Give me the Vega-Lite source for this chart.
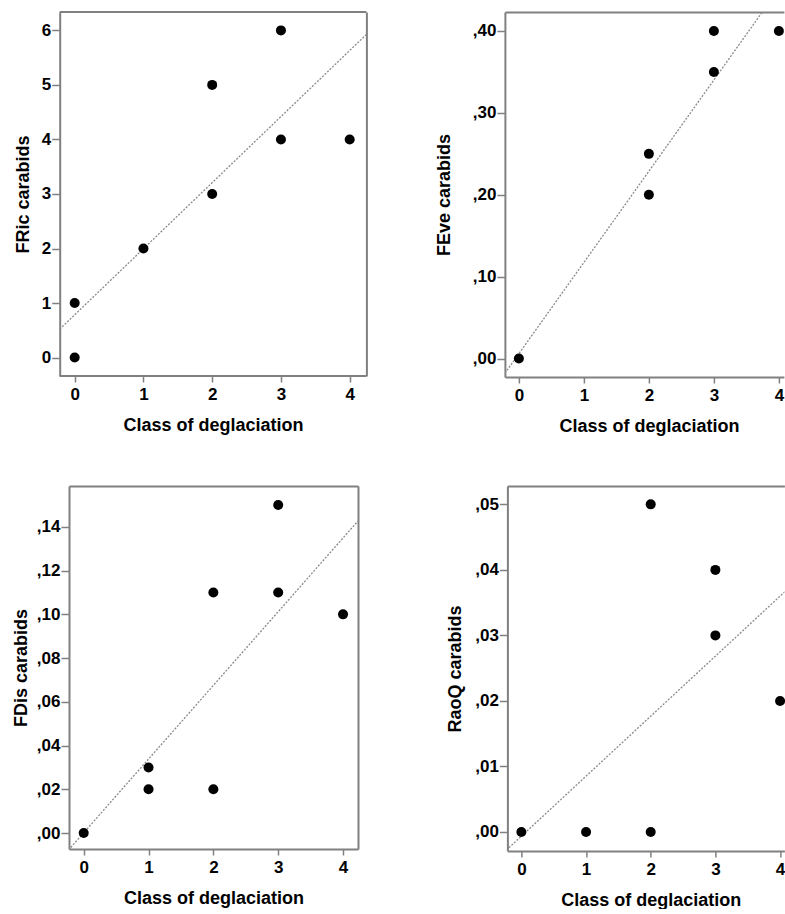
{
  "$schema": "https://vega.github.io/schema/vega-lite/v6.json",
  "padding": {"left": 12, "top": 11, "right": 0, "bottom": 0},
  "background": "white",
  "datasets": {
    "pts": [
      {"panel": "FRic", "cls": 0, "val": 0},
      {"panel": "FRic", "cls": 0, "val": 1},
      {"panel": "FRic", "cls": 1, "val": 2},
      {"panel": "FRic", "cls": 2, "val": 3},
      {"panel": "FRic", "cls": 2, "val": 5},
      {"panel": "FRic", "cls": 3, "val": 4},
      {"panel": "FRic", "cls": 3, "val": 6},
      {"panel": "FRic", "cls": 4, "val": 4},
      {"panel": "FEve", "cls": 0, "val": 0},
      {"panel": "FEve", "cls": 2, "val": 0.2},
      {"panel": "FEve", "cls": 2, "val": 0.25},
      {"panel": "FEve", "cls": 3, "val": 0.35},
      {"panel": "FEve", "cls": 3, "val": 0.4},
      {"panel": "FEve", "cls": 4, "val": 0.4},
      {"panel": "FDis", "cls": 0, "val": 0},
      {"panel": "FDis", "cls": 1, "val": 0.02},
      {"panel": "FDis", "cls": 1, "val": 0.03},
      {"panel": "FDis", "cls": 2, "val": 0.02},
      {"panel": "FDis", "cls": 2, "val": 0.11},
      {"panel": "FDis", "cls": 3, "val": 0.11},
      {"panel": "FDis", "cls": 3, "val": 0.15},
      {"panel": "FDis", "cls": 4, "val": 0.1},
      {"panel": "RaoQ", "cls": 0, "val": 0},
      {"panel": "RaoQ", "cls": 1, "val": 0},
      {"panel": "RaoQ", "cls": 2, "val": 0},
      {"panel": "RaoQ", "cls": 2, "val": 0.05},
      {"panel": "RaoQ", "cls": 3, "val": 0.03},
      {"panel": "RaoQ", "cls": 3, "val": 0.04},
      {"panel": "RaoQ", "cls": 4, "val": 0.02}
    ],
    "fit": [
      {"panel": "FRic", "cls": -0.218, "val": 0.52},
      {"panel": "FRic", "cls": 4.243, "val": 5.925},
      {"panel": "FEve", "cls": -0.215, "val": -0.018},
      {"panel": "FEve", "cls": 3.745, "val": 0.4232},
      {"panel": "FDis", "cls": -0.2, "val": -0.0066},
      {"panel": "FDis", "cls": 4.231, "val": 0.1427},
      {"panel": "RaoQ", "cls": -0.192, "val": -0.0024},
      {"panel": "RaoQ", "cls": 4.088, "val": 0.0368}
    ]
  },
  "columns": 1,
  "align": "none",
  "spacing": 51,
  "concat": [
    {
      "spacing": 65.9,
      "hconcat": [
        {
          "width": 297.4,
          "height": 364,
          "layer": [
            {
              "data": {"values": [{}]},
              "mark": {"type": "rule", "color": "#808080", "strokeWidth": 2},
              "encoding": {
                "x": {"datum": -0.218, "type": "quantitative", "scale": {"domain": [-0.0827, 4.243], "nice": false, "zero": false}, "axis": null},
                "x2": {"datum": 4.243},
                "y": {"datum": 6.337, "type": "quantitative", "scale": {"domain": [-0.338, 6.337], "nice": false, "zero": false}, "axis": null}
              }
            },
            {
              "data": {"values": [{}]},
              "mark": {"type": "rule", "color": "#808080", "strokeWidth": 2},
              "encoding": {
                "x": {"datum": -0.218, "type": "quantitative", "scale": {"domain": [-0.0827, 4.243], "nice": false, "zero": false}, "axis": null},
                "x2": {"datum": 4.243},
                "y": {"datum": -0.338, "type": "quantitative", "scale": {"domain": [-0.338, 6.337], "nice": false, "zero": false}, "axis": null}
              }
            },
            {
              "data": {"name": "fit"},
              "transform": [{"filter": "datum.panel === 'FRic'"}],
              "mark": {"type": "line", "color": "#8a8a8a", "strokeDash": [2, 1.5], "strokeWidth": 1.3},
              "encoding": {
                "x": {"field": "cls", "type": "quantitative", "scale": {"domain": [-0.0827, 4.243], "nice": false, "zero": false}, "axis": null},
                "y": {"field": "val", "type": "quantitative", "scale": {"domain": [-0.338, 6.337], "nice": false, "zero": false}, "axis": {"orient": "right", "labels": false, "ticks": false, "title": null}}
              }
            },
            {
              "data": {"name": "pts"},
              "transform": [{"filter": "datum.panel === 'FRic'"}],
              "mark": {"type": "circle", "size": 100, "color": "#000", "opacity": 1},
              "encoding": {
                "x": {"field": "cls", "type": "quantitative", "scale": {"domain": [-0.0827, 4.243], "nice": false, "zero": false}, "axis": {"orient": "bottom", "domain": false, "values": [0, 1, 2, 3, 4], "format": "d", "title": "Class of deglaciation", "titleX": 143.9}},
                "y": {"field": "val", "type": "quantitative", "scale": {"domain": [-0.338, 6.337], "nice": false, "zero": false}, "axis": {"orient": "left", "offset": 9.3, "values": [0, 1, 2, 3, 4, 5, 6], "format": "d", "title": "FRic carabids", "titlePadding": 9}}
              }
            }
          ],
          "resolve": {"axis": {"x": "independent", "y": "independent"}}
        },
        {
          "width": 279,
          "height": 365,
          "layer": [
            {
              "data": {"name": "fit"},
              "transform": [{"filter": "datum.panel === 'FEve'"}],
              "mark": {"type": "line", "clip": true, "color": "#8a8a8a", "strokeDash": [2, 1.5], "strokeWidth": 1.3},
              "encoding": {
                "x": {"field": "cls", "type": "quantitative", "scale": {"domain": [-0.215, 4.077], "nice": false, "zero": false}, "axis": {"orient": "top", "labels": false, "ticks": false, "title": null}},
                "y": {"field": "val", "type": "quantitative", "scale": {"domain": [-0.0225, 0.4232], "nice": false, "zero": false}, "axis": null}
              }
            },
            {
              "data": {"name": "pts"},
              "transform": [{"filter": "datum.panel === 'FEve'"}],
              "mark": {"type": "circle", "size": 100, "color": "#000", "opacity": 1},
              "encoding": {
                "x": {"field": "cls", "type": "quantitative", "scale": {"domain": [-0.215, 4.077], "nice": false, "zero": false}, "axis": {"orient": "bottom", "values": [0, 1, 2, 3, 4], "format": "d", "title": "Class of deglaciation", "titleX": 144}},
                "y": {"field": "val", "type": "quantitative", "scale": {"domain": [-0.0225, 0.4232], "nice": false, "zero": false}, "axis": {"orient": "left", "values": [0, 0.1, 0.2, 0.3, 0.4], "labelExpr": "replace(format(datum.value, '.2f'), '0.', ',')", "title": "FEve carabids", "titlePadding": 19}}
              }
            }
          ],
          "resolve": {"axis": {"x": "independent", "y": "independent"}}
        }
      ]
    },
    {
      "spacing": 88.4,
      "hconcat": [
        {
          "width": 289,
          "height": 363,
          "layer": [
            {
              "data": {"name": "fit"},
              "transform": [{"filter": "datum.panel === 'FDis'"}],
              "mark": {"type": "line", "clip": true, "color": "#8a8a8a", "strokeDash": [2, 1.5], "strokeWidth": 1.3},
              "encoding": {
                "x": {"field": "cls", "type": "quantitative", "scale": {"domain": [-0.227, 4.231], "nice": false, "zero": false}, "axis": {"orient": "top", "labels": false, "ticks": false, "title": null}},
                "y": {"field": "val", "type": "quantitative", "scale": {"domain": [-0.0073, 0.1587], "nice": false, "zero": false}, "axis": {"orient": "right", "labels": false, "ticks": false, "title": null}}
              }
            },
            {
              "data": {"name": "pts"},
              "transform": [{"filter": "datum.panel === 'FDis'"}],
              "mark": {"type": "circle", "size": 100, "color": "#000", "opacity": 1},
              "encoding": {
                "x": {"field": "cls", "type": "quantitative", "scale": {"domain": [-0.227, 4.231], "nice": false, "zero": false}, "axis": {"orient": "bottom", "values": [0, 1, 2, 3, 4], "format": "d", "title": "Class of deglaciation"}},
                "y": {"field": "val", "type": "quantitative", "scale": {"domain": [-0.0073, 0.1587], "nice": false, "zero": false}, "axis": {"orient": "left", "values": [0, 0.02, 0.04, 0.06, 0.08, 0.1, 0.12, 0.14], "labelExpr": "replace(format(datum.value, '.2f'), '0.', ',')", "title": "FDis carabids", "titlePadding": 6}}
              }
            }
          ],
          "resolve": {"axis": {"x": "independent", "y": "independent"}}
        },
        {
          "width": 277,
          "height": 365,
          "layer": [
            {
              "data": {"name": "fit"},
              "transform": [{"filter": "datum.panel === 'RaoQ'"}],
              "mark": {"type": "line", "clip": true, "color": "#8a8a8a", "strokeDash": [2, 1.5], "strokeWidth": 1.3},
              "encoding": {
                "x": {"field": "cls", "type": "quantitative", "scale": {"domain": [-0.216, 4.067], "nice": false, "zero": false}, "axis": {"orient": "top", "labels": false, "ticks": false, "title": null}},
                "y": {"field": "val", "type": "quantitative", "scale": {"domain": [-0.0029, 0.0528], "nice": false, "zero": false}, "axis": null}
              }
            },
            {
              "data": {"name": "pts"},
              "transform": [{"filter": "datum.panel === 'RaoQ'"}],
              "mark": {"type": "circle", "size": 100, "color": "#000", "opacity": 1},
              "encoding": {
                "x": {"field": "cls", "type": "quantitative", "scale": {"domain": [-0.216, 4.067], "nice": false, "zero": false}, "axis": {"orient": "bottom", "values": [0, 1, 2, 3, 4], "format": "d", "title": "Class of deglaciation", "titleX": 143.3}},
                "y": {"field": "val", "type": "quantitative", "scale": {"domain": [-0.0029, 0.0528], "nice": false, "zero": false}, "axis": {"orient": "left", "values": [0, 0.01, 0.02, 0.03, 0.04, 0.05], "labelExpr": "replace(format(datum.value, '.2f'), '0.', ',')", "title": "RaoQ carabids", "titlePadding": 10}}
              }
            }
          ],
          "resolve": {"axis": {"x": "independent", "y": "independent"}}
        }
      ]
    }
  ],
  "config": {
    "view": {"stroke": null},
    "font": "Liberation Sans",
    "axis": {
      "grid": false,
      "domainColor": "#808080",
      "domainWidth": 2,
      "tickColor": "#808080",
      "tickWidth": 1.5,
      "labelFont": "Liberation Sans",
      "labelFontSize": 17,
      "labelFontWeight": "bold",
      "labelColor": "#000",
      "labelFlush": false,
      "labelOverlap": false,
      "titleFont": "Liberation Sans",
      "titleFontSize": 18,
      "titleFontWeight": "bold",
      "titleColor": "#000"
    },
    "axisX": {"tickSize": 6, "labelPadding": 4, "titlePadding": 14},
    "axisY": {"tickSize": 8, "labelPadding": 1}
  }
}
